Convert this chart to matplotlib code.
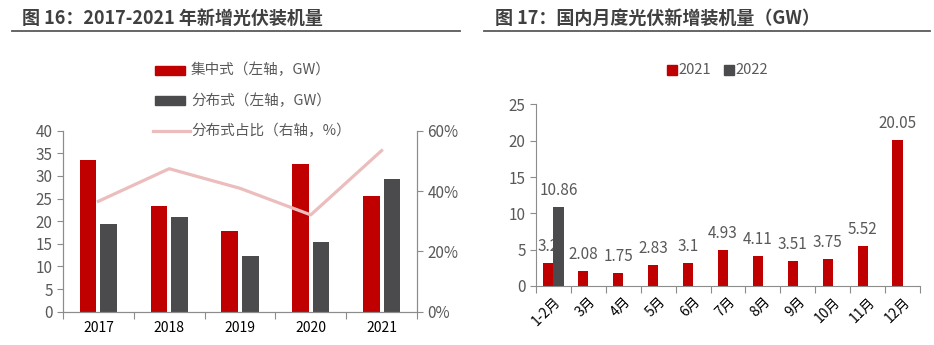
import numpy as np
import matplotlib
matplotlib.use('Agg')
import matplotlib.pyplot as plt
from matplotlib.patches import Rectangle
from matplotlib.lines import Line2D

plt.rcParams['font.family'] = ['Noto Sans CJK SC', 'DejaVu Sans']

RED = '#C00000'
GRAY = '#4B4B4D'
PINK = '#EBBDBD'
TXT = '#595959'
AX = '#8C8C8C'

# annual installations, GW
years = ['2017', '2018', '2019', '2020', '2021']
central = [33.6, 23.4, 17.9, 32.7, 25.6]
distributed = [19.4, 21.0, 12.2, 15.5, 29.3]
dist_share = [36.6, 47.4, 40.9, 32.1, 53.4]

# monthly installations, GW
months = ['1-2月', '3月', '4月', '5月', '6月', '7月', '8月', '9月', '10月', '11月', '12月']
m2021 = [3.2, 2.08, 1.75, 2.83, 3.1, 4.93, 4.11, 3.51, 3.75, 5.52, 20.05]
m2022 = [10.86]

W, H = 934, 345
fig = plt.figure(figsize=(W / 100, H / 100), dpi=100)


def px_axes(x0, y0, x1, y1):
    return fig.add_axes([x0 / W, 1 - y1 / H, (x1 - x0) / W, (y1 - y0) / H])


def header(x_text, x0, x1, text):
    fig.text(x_text / W, 1 - 18 / H, text, fontsize=13, fontweight='bold',
             color='#404040', va='center', ha='left')
    fig.add_artist(Line2D([x0 / W, x1 / W], [1 - 31 / H, 1 - 31 / H],
                          color='#595959', lw=1.3))


def style_spine(ax, sides):
    for s in ['top', 'right', 'left', 'bottom']:
        ax.spines[s].set_visible(s in sides)
        ax.spines[s].set_color(AX)
    ax.tick_params(colors=AX, labelcolor=TXT, labelsize=11, length=4)


header(22, 12, 460, '图 16：2017-2021 年新增光伏装机量')
header(495, 484, 930, '图 17：国内月度光伏新增装机量（GW）')

# ---- left: annual bars + share line
ax = px_axes(63, 130.7, 417, 311.7)
x = np.arange(len(years))
bw = 0.236
ax.bar(x - 0.146, central, bw, color=RED, zorder=2)
ax.bar(x + 0.146, distributed, bw, color=GRAY, zorder=2)
ax.set_xlim(-0.5, len(years) - 0.5)
ax.set_ylim(0, 40)
ax.set_yticks(range(0, 41, 5))
ax.set_xticks(np.arange(-0.5, len(years), 1))
ax.set_xticklabels([])
ax.set_xticks(x, minor=True)
ax.set_xticklabels(years, minor=True)
style_spine(ax, ['left', 'bottom', 'right'])
ax.tick_params(axis='x', which='minor', length=0, pad=7)
ax.tick_params(axis='x', which='major', length=5)

ax2 = ax.twinx()
ax2.plot(x, dist_share, color=PINK, lw=2.3, zorder=3)
ax2.set_ylim(0, 60)
ax2.set_yticks([0, 20, 40, 60])
ax2.set_yticklabels(['%d%%' % v for v in [0, 20, 40, 60]])
style_spine(ax2, ['left', 'bottom', 'right'])

# legend drawn by hand, stacked and centered above the plot
leg = [('集中式（左轴，GW）', 'bar', RED, 70),
       ('分布式（左轴，GW）', 'bar', GRAY, 101),
       ('分布式占比（右轴，%）', 'line', PINK, 131)]
for label, kind, col, yp in leg:
    if kind == 'bar':
        fig.add_artist(Rectangle((155 / W, 1 - (yp + 4.5) / H), 30 / W, 9 / H,
                                 transform=fig.transFigure, color=col))
    else:
        fig.add_artist(Line2D([153 / W, 190 / W], [1 - yp / H, 1 - yp / H],
                              color=col, lw=2.3))
    fig.text(191 / W, 1 - yp / H, label, fontsize=10.5, color=TXT,
             va='center', ha='left')

# ---- right: monthly bars
bx = px_axes(536, 104.4, 920, 286)
xm = np.arange(len(months))
mw = 0.29
bars21 = bx.bar(xm - 0.145, m2021, mw, color=RED, zorder=2)
bars22 = bx.bar(xm[:len(m2022)] + 0.145, m2022, mw, color=GRAY, zorder=4)
for b, v in zip(bars21, m2021):
    bx.text(b.get_x() + b.get_width() / 2, v + 1.1, '%g' % v, ha='center',
            va='bottom', fontsize=11, color=TXT, zorder=3)
for b, v in zip(bars22, m2022):
    bx.text(b.get_x() + b.get_width() / 2, v + 1.1, '%g' % v, ha='center',
            va='bottom', fontsize=11, color=TXT, zorder=3)
bx.set_xlim(-0.5, len(months) - 0.5)
bx.set_ylim(0, 25)
bx.set_yticks(range(0, 26, 5))
bx.set_xticks(np.arange(-0.5, len(months), 1))
bx.set_xticklabels([])
bx.set_xticks(xm, minor=True)
bx.set_xticklabels(months, minor=True, rotation=45, ha='right',
                   rotation_mode='anchor')
style_spine(bx, ['left', 'bottom'])
bx.tick_params(axis='x', which='minor', length=0, pad=6)
bx.tick_params(axis='x', which='major', length=5)

# legend for the monthly chart
for i, (lab, col) in enumerate([('2021', RED), ('2022', GRAY)]):
    x0 = 667 + i * 57
    fig.add_artist(Rectangle((x0 / W, 1 - 75 / H), 10 / W, 10 / H,
                             transform=fig.transFigure, color=col))
    fig.text((x0 + 11) / W, 1 - 70 / H, lab, fontsize=10.5, color=TXT,
             va='center', ha='left')

fig.savefig('out.png', dpi=100)
